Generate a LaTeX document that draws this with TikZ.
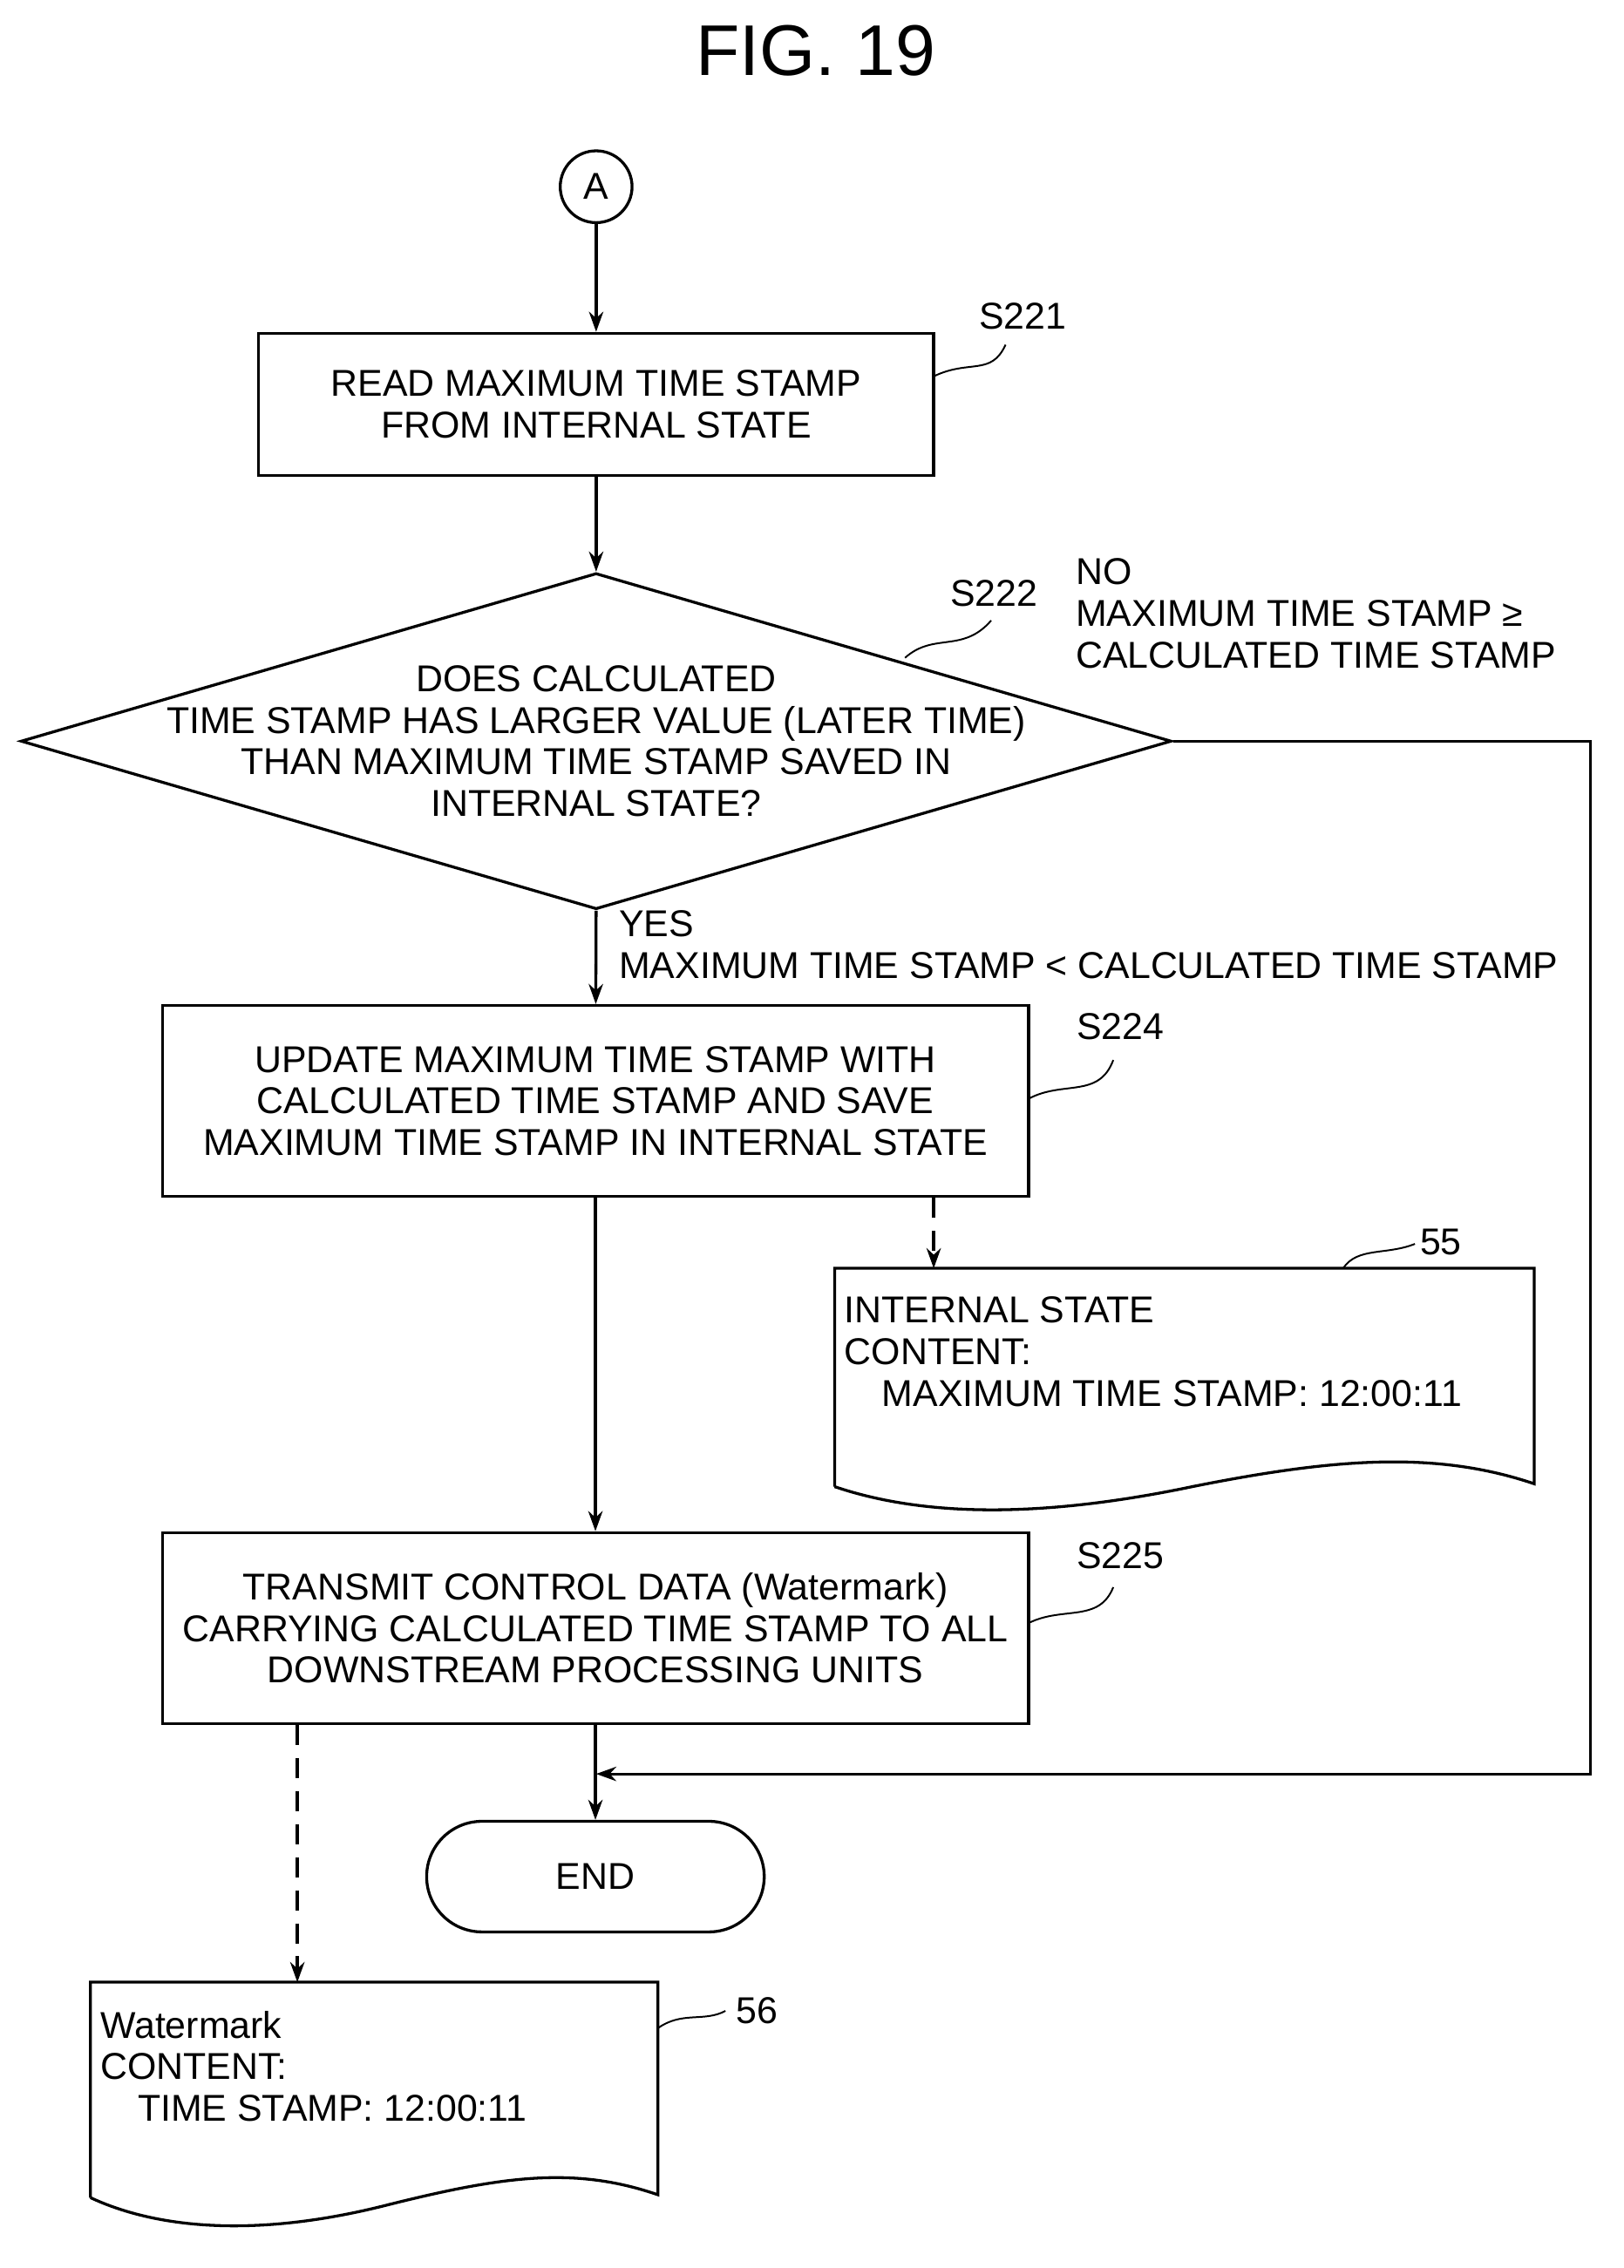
\documentclass[tikz,border=0pt]{standalone}
\usepackage{fontspec}
\setmainfont{Liberation Sans}
\usetikzlibrary{arrows.meta,shapes.geometric,shapes.misc}
\begin{document}
\begin{tikzpicture}[x=1pt,y=-1pt,line width=2pt,
  >={Stealth[length=14pt,width=10pt]},
  txt/.style={font=\fontsize{26}{29}\selectfont,inner sep=0pt},
  box/.style={draw,rectangle,inner sep=0pt,align=center,font=\fontsize{26}{29}\selectfont},
  lab/.style={txt,anchor=center},
  sq/.style={line width=1.2pt},
  dsh/.style={dash pattern=on 14pt off 9pt}]
\useasboundingbox (0,0) rectangle (1130,1579);
\node[txt,font=\fontsize{50}{54}\selectfont] (title) at (568,35) {FIG. 19};
\node[draw,circle,minimum size=50pt,txt] (A) at (415,130) {A};
\node[box,minimum width=470pt,minimum height=99pt] (s221) at (415,281.5) {READ MAXIMUM TIME STAMP\\FROM INTERNAL STATE};
\node[lab] (l221) at (712,220) {S221};
\draw[sq] (650,262) .. controls (675,250) and (690,262) .. (700,240);
\node[draw,diamond,aspect=3.43,inner sep=0pt,minimum width=801pt,minimum height=234pt] (d) at (415,516) {};
\node[txt,align=center] (dt) at (415,516) {DOES CALCULATED\\TIME STAMP HAS LARGER VALUE (LATER TIME)\\THAN MAXIMUM TIME STAMP SAVED IN\\INTERNAL STATE?};
\node[lab] (l222) at (692,413) {S222};
\draw[sq] (630,458) .. controls (650,440) and (670,455) .. (690,432);
\node[txt,align=left,anchor=north west] (no) at (748,388) {NO\\MAXIMUM TIME STAMP ≥\\CALCULATED TIME STAMP};
\node[txt,align=left,anchor=north west] (yes) at (430,633) {YES\\MAXIMUM TIME STAMP \textless{} CALCULATED TIME STAMP};
\node[box,minimum width=603pt,minimum height=133pt] (s224) at (414.5,766.5) {UPDATE MAXIMUM TIME STAMP WITH\\CALCULATED TIME STAMP AND SAVE\\MAXIMUM TIME STAMP IN INTERNAL STATE};
\node[lab] (l224) at (780,715) {S224};
\draw[sq] (716,765) .. controls (740,752) and (765,765) .. (775,738);
\node[box,minimum width=603pt,minimum height=133pt] (s225) at (414.5,1133.5) {TRANSMIT CONTROL DATA (Watermark)\\CARRYING CALCULATED TIME STAMP TO ALL\\DOWNSTREAM PROCESSING UNITS};
\node[lab] (l225) at (780,1083) {S225};
\draw[sq] (716,1130) .. controls (740,1118) and (765,1130) .. (775,1105);
\node[draw,rounded rectangle,minimum width=235pt,minimum height=77pt,txt] (end) at (414.5,1306.5) {END};
% document 55
\coordinate (d55) at (650,883);
\draw (581,1035) -- (581,883) -- (1068,883) -- (1068,1033)
  .. controls (1000,1010) and (930,1015) .. (830,1035)
  .. controls (720,1058) and (640,1055) .. (581,1035);
\node[lab] (l55) at (1003,865) {55};
\draw[sq] (935,883) .. controls (945,868) and (965,874) .. (985,866);
\node[txt,align=left,anchor=north west] (c55) at (587,902) {INTERNAL STATE\\CONTENT:\\\hspace*{26pt}MAXIMUM TIME STAMP: 12:00:11};
% document 56
\coordinate (d56) at (207,1380);
\draw (63,1530) -- (63,1380) -- (458,1380) -- (458,1528)
  .. controls (400,1508) and (350,1515) .. (270,1535)
  .. controls (180,1558) and (110,1552) .. (63,1530);
\node[lab] (l56) at (527,1400) {56};
\draw[sq] (458,1412) .. controls (475,1400) and (490,1408) .. (505,1400);
\node[txt,align=left,anchor=north west] (c56) at (69,1399) {Watermark\\CONTENT:\\\hspace*{26pt}TIME STAMP: 12:00:11};
% connectors
\coordinate (j) at (415,1235);
\draw[->] (A) -- (s221);
\draw[->] (s221) -- (d.north);
\draw[->] (d.south) -- (s224);
\draw[->] (s224) -- (s225);
\draw[->] (s225) -- (end);
\draw[->] (d.east) -- (1107,516) -- (1107,1235) -- (j);
\draw[->,dsh] (s224.south -| d55) -- (d55);
\draw[->,dsh] (s225.south -| d56) -- (d56);
\end{tikzpicture}
\end{document}
